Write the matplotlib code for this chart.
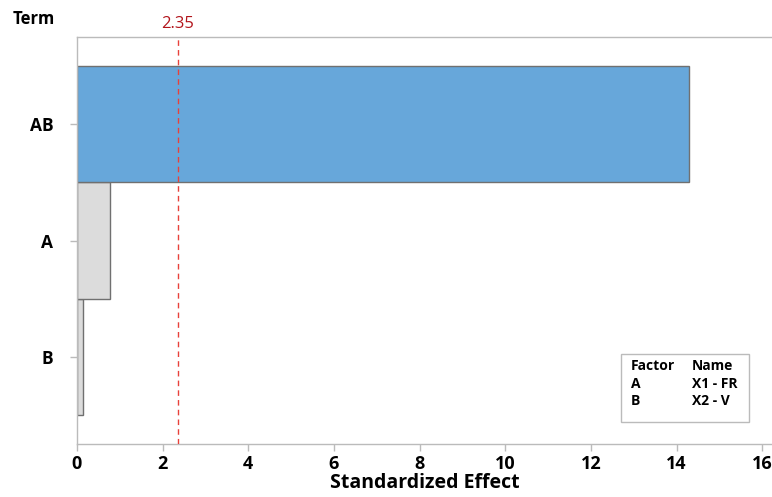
import matplotlib
matplotlib.use("Agg")
import matplotlib.pyplot as plt
from matplotlib.patches import Rectangle

terms = ["B", "A", "AB"]
effects = [0.13, 0.76, 14.3]
bar_colors = ["#DCDCDC", "#DCDCDC", "#67A7DA"]
critical = 2.35
factor_codes = ["A", "B"]
factor_names = ["X1 - FR", "X2 - V"]
x_ticks = [0, 2, 4, 6, 8, 10, 12, 14, 16]

plt.rcParams["font.family"] = ["Open Sans", "DejaVu Sans"]

fig = plt.figure(figsize=(7.72, 4.97), dpi=100)
ax = fig.add_axes([77 / 772, 1 - 444 / 497, (772 - 77) / 772, (444 - 37) / 497])

ypos = list(range(len(terms)))
ax.barh(ypos, effects, height=1.0, color=bar_colors, edgecolor="#707070", linewidth=1.0, zorder=2)
ax.axvline(critical, color="#E8413A", linestyle=(0, (4, 3)), linewidth=1.0, zorder=3)
ax.text(critical, 1.012, f"{critical:.2f}", transform=ax.get_xaxis_transform(),
        ha="center", va="bottom", color="#B2141B", fontsize=12)

ax.set_xlim(0, 16.23)
ax.set_ylim(-0.75, 2.75)
ax.set_xticks(x_ticks)
ax.set_xticklabels([str(t) for t in x_ticks], fontsize=13, fontweight="bold")
ax.set_yticks(ypos)
ax.set_yticklabels(terms, fontsize=12.5, fontweight="bold")
ax.tick_params(axis="both", color="#BBBBBB", length=5, width=1)
ax.tick_params(axis="y", pad=12)
ax.tick_params(axis="x", pad=3)
for side in ["left", "bottom", "top"]:
    ax.spines[side].set_color("#BBBBBB")
    ax.spines[side].set_linewidth(1.0)
ax.spines["right"].set_visible(False)

ax.set_xlabel("Standardized Effect", fontsize=14, fontweight="bold", labelpad=0)
fig.text(13 / 772, 1 - 19 / 497, "Term", fontsize=12, fontweight="bold", va="center", ha="left")

# factor key box
box = Rectangle((621 / 772, 1 - 422 / 497), (749 - 621) / 772, (422 - 354) / 497,
                transform=fig.transFigure, facecolor="white", edgecolor="#BBBBBB", linewidth=1.0)
fig.patches.append(box)
rows = [("Factor", "Name")] + list(zip(factor_codes, factor_names))
for i, (c, n) in enumerate(rows):
    y = 1 - (366 + i * 17.5) / 497
    fig.text(631 / 772, y, c, fontsize=10, fontweight="bold", va="center", ha="left")
    fig.text(692 / 772, y, n, fontsize=10, fontweight="bold", va="center", ha="left")

fig.savefig("out.png", dpi=100)
